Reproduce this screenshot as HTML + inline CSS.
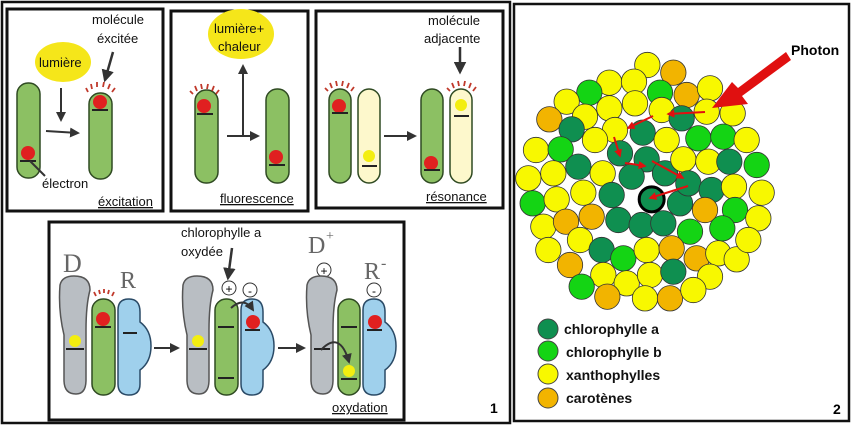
<!DOCTYPE html>
<html><head><meta charset="utf-8"><style>
html,body{margin:0;padding:0;background:#fff}
svg{display:block;font-family:"Liberation Sans",sans-serif}
.t{font-size:13px;fill:#111}
.rod{fill:#8cc063;stroke:#2f4a22;stroke-width:1.5}
.yrod{fill:#fdf8cc;stroke:#2f4a22;stroke-width:1.5}
.gray{fill:#b9bec3;stroke:#555;stroke-width:1.5}
.blue{fill:#9fd0ec;stroke:#2a4a66;stroke-width:1.5}
.lv{stroke:#222;stroke-width:2}
.ar{stroke:#333;stroke-width:2;fill:none}
.ray{stroke:#c0392b;stroke-width:1.8}
</style></head><body>
<svg id="s" width="852" height="426" viewBox="0 0 852 426">
<defs><marker id="ah" viewBox="0 0 10 10" refX="8" refY="5" markerWidth="5" markerHeight="5" orient="auto"><path d="M0,0L10,5L0,10z" fill="#333"/></marker>
<marker id="rh" viewBox="0 0 10 10" refX="8" refY="5" markerWidth="4" markerHeight="4" orient="auto"><path d="M0,0L10,5L0,10z" fill="#e01010"/></marker></defs>
<rect x="2" y="2" width="508" height="421" fill="none" stroke="#111" stroke-width="2.5"/>
<rect x="514" y="4" width="335" height="417" fill="none" stroke="#111" stroke-width="2.5"/>

<!-- Box A excitation -->
<g>
<rect x="7" y="9" width="156" height="202" fill="#fff" stroke="#111" stroke-width="3"/>
<ellipse cx="63" cy="62" rx="28" ry="20" fill="#f5e61a"/>
<text class="t" x="39" y="67">lumière</text>
<text class="t" x="92" y="24">molécule</text><text class="t" x="97" y="43">éxcitée</text>
<rect class="rod" x="17" y="83" width="23" height="95" rx="11"/>
<circle cx="28" cy="153" r="7" fill="#e02020"/><line class="lv" x1="20" y1="161" x2="36" y2="161"/>
<line class="ar" x1="30" y1="161" x2="45" y2="176"/>
<line class="ar" x1="61" y1="88" x2="61" y2="120" marker-end="url(#ah)"/>
<line class="ar" x1="46" y1="131" x2="78" y2="133" marker-end="url(#ah)"/>
<rect class="rod" x="89" y="93" width="23" height="86" rx="11"/>
<circle cx="100" cy="102" r="7" fill="#e02020"/><line class="lv" x1="92" y1="110" x2="108" y2="110"/>
<g class="ray"><line x1="86" y1="88" x2="88" y2="92"/><line x1="91" y1="84" x2="92" y2="89"/><line x1="97" y1="82" x2="97" y2="87"/><line x1="104" y1="82" x2="103" y2="87"/><line x1="110" y1="84" x2="108" y2="89"/><line x1="115" y1="88" x2="112" y2="92"/></g>
<line x1="113" y1="52" x2="105" y2="80" stroke="#333" stroke-width="2.5" marker-end="url(#ah)"/>
<text class="t" x="42" y="188">électron</text>
<text class="t" x="98" y="206" text-decoration="underline">éxcitation</text>
</g>

<!-- Box B fluorescence -->
<g>
<rect x="171" y="11" width="137" height="200" fill="#fff" stroke="#111" stroke-width="3"/>
<ellipse cx="241" cy="34" rx="33" ry="25" fill="#f5e61a"/>
<text class="t" x="214" y="33">lumière+</text><text class="t" x="218" y="51">chaleur</text>
<rect class="rod" x="195" y="90" width="23" height="93" rx="11"/>
<circle cx="204" cy="106" r="7" fill="#e02020"/><line class="lv" x1="197" y1="114" x2="213" y2="114"/>
<g class="ray"><line x1="190" y1="91" x2="193" y2="94"/><line x1="195" y1="86" x2="197" y2="91"/><line x1="201" y1="84" x2="202" y2="89"/><line x1="208" y1="84" x2="207" y2="89"/><line x1="214" y1="86" x2="212" y2="91"/><line x1="219" y1="90" x2="216" y2="94"/></g>
<line class="ar" x1="243" y1="136" x2="243" y2="66" marker-end="url(#ah)"/>
<line class="ar" x1="227" y1="136" x2="258" y2="136" marker-end="url(#ah)"/>
<rect class="rod" x="266" y="89" width="23" height="94" rx="11"/>
<circle cx="276" cy="157" r="7" fill="#e02020"/><line class="lv" x1="269" y1="165" x2="285" y2="165"/>
<text class="t" x="220" y="203" text-decoration="underline">fluorescence</text>
</g>

<!-- Box C resonance -->
<g>
<rect x="316" y="11" width="187" height="197" fill="#fff" stroke="#111" stroke-width="3"/>
<text class="t" x="428" y="25">molécule</text><text class="t" x="424" y="43">adjacente</text>
<line x1="460" y1="47" x2="460" y2="72" stroke="#333" stroke-width="2.5" marker-end="url(#ah)"/>
<rect class="rod" x="329" y="89" width="22" height="94" rx="11"/>
<circle cx="339" cy="106" r="7" fill="#e02020"/><line class="lv" x1="332" y1="113" x2="348" y2="113"/>
<g class="ray"><line x1="325" y1="88" x2="328" y2="91"/><line x1="330" y1="83" x2="332" y2="88"/><line x1="336" y1="81" x2="337" y2="86"/><line x1="343" y1="81" x2="342" y2="86"/><line x1="349" y1="83" x2="347" y2="88"/><line x1="354" y1="87" x2="351" y2="91"/></g>
<rect class="yrod" x="358" y="89" width="22" height="94" rx="11"/>
<circle cx="369" cy="156" r="6" fill="#f3ee10"/><line class="lv" x1="362" y1="166" x2="377" y2="166"/>
<line class="ar" x1="384" y1="136" x2="415" y2="136" marker-end="url(#ah)"/>
<rect class="rod" x="421" y="89" width="22" height="94" rx="11"/>
<circle cx="431" cy="163" r="7" fill="#e02020"/><line class="lv" x1="424" y1="170" x2="440" y2="170"/>
<rect class="yrod" x="450" y="89" width="22" height="94" rx="11"/>
<circle cx="461" cy="105" r="6" fill="#f3ee10"/><line class="lv" x1="454" y1="116" x2="469" y2="116"/>
<g class="ray"><line x1="447" y1="88" x2="450" y2="91"/><line x1="452" y1="83" x2="454" y2="88"/><line x1="458" y1="81" x2="459" y2="86"/><line x1="465" y1="81" x2="464" y2="86"/><line x1="471" y1="83" x2="469" y2="88"/><line x1="476" y1="87" x2="473" y2="91"/></g>
<text class="t" x="426" y="201" text-decoration="underline">résonance</text>
</g>

<!-- Bottom oxydation -->
<g>
<rect x="49" y="222" width="355" height="198" fill="#fff" stroke="#111" stroke-width="3"/>
<text x="63" y="272" font-family="Liberation Serif,serif" font-size="26" fill="#666">D</text>
<text x="120" y="288" font-family="Liberation Serif,serif" font-size="24" fill="#666">R</text>
<path class="gray" d="M60,285 Q62,276 74,276 Q90,276 90,290 Q86,305 86,330 L86,380 Q86,394 76,394 Q64,394 64,380 L64,335 Q58,310 60,285z"/>
<circle cx="75" cy="341" r="6" fill="#f3ee10"/><line class="lv" x1="66" y1="349" x2="84" y2="349"/>
<rect class="rod" x="92" y="299" width="23" height="96" rx="11"/>
<circle cx="103" cy="319" r="7" fill="#e02020"/><line class="lv" x1="95" y1="327" x2="111" y2="327"/>
<g class="ray"><line x1="94" y1="292" x2="96" y2="296"/><line x1="99" y1="290" x2="100" y2="294"/><line x1="104" y1="289" x2="104" y2="293"/><line x1="109" y1="290" x2="108" y2="294"/><line x1="114" y1="292" x2="112" y2="296"/></g>
<path class="blue" d="M118,310 Q118,299 129,299 Q140,299 140,312 L140,322 Q151,330 151,346 Q151,362 140,370 L140,384 Q140,395 129,395 Q118,395 118,384z"/>
<line class="lv" x1="123" y1="333" x2="137" y2="333" stroke="#1d3550"/>
<line class="ar" x1="154" y1="348" x2="178" y2="348" marker-end="url(#ah)"/>

<text class="t" x="181" y="237">chlorophylle a</text><text class="t" x="181" y="256">oxydée</text>
<line x1="232" y1="248" x2="228" y2="278" stroke="#333" stroke-width="2.5" marker-end="url(#ah)"/>
<path class="gray" d="M183,285 Q185,276 197,276 Q213,276 213,290 Q209,305 209,330 L209,380 Q209,394 199,394 Q187,394 187,380 L187,335 Q181,310 183,285z"/>
<circle cx="198" cy="341" r="6" fill="#f3ee10"/><line class="lv" x1="189" y1="349" x2="207" y2="349"/>
<rect class="rod" x="215" y="299" width="23" height="96" rx="11"/>
<line class="lv" x1="218" y1="327" x2="234" y2="327"/><line class="lv" x1="218" y1="378" x2="234" y2="378"/>
<path class="blue" d="M241,310 Q241,299 252,299 Q263,299 263,312 L263,322 Q274,330 274,346 Q274,362 263,370 L263,384 Q263,395 252,395 Q241,395 241,384z"/>
<circle cx="253" cy="322" r="7" fill="#e02020"/><line class="lv" x1="245" y1="330" x2="260" y2="330"/>
<circle cx="229" cy="288" r="7" fill="#fff" stroke="#333"/><text x="229" y="293" font-size="12" text-anchor="middle">+</text>
<circle cx="250" cy="290" r="7" fill="#fff" stroke="#333"/><text x="250" y="295" font-size="12" text-anchor="middle">-</text>
<path class="ar" d="M231,308 Q244,296 253,310" marker-end="url(#ah)"/>
<line class="ar" x1="278" y1="348" x2="304" y2="348" marker-end="url(#ah)"/>

<text x="308" y="253" font-family="Liberation Serif,serif" font-size="24" fill="#666">D</text><text x="326" y="240" font-family="Liberation Serif,serif" font-size="14" fill="#666">+</text>
<text x="364" y="279" font-family="Liberation Serif,serif" font-size="24" fill="#666">R</text><text x="381" y="268" font-family="Liberation Serif,serif" font-size="16" fill="#666">-</text>
<circle cx="324" cy="270" r="7" fill="#fff" stroke="#333"/><text x="324" y="275" font-size="12" text-anchor="middle">+</text>
<circle cx="374" cy="290" r="7" fill="#fff" stroke="#333"/><text x="374" y="295" font-size="12" text-anchor="middle">-</text>
<path class="gray" d="M307,285 Q309,276 321,276 Q337,276 337,290 Q333,305 333,330 L333,380 Q333,394 323,394 Q311,394 311,380 L311,335 Q305,310 307,285z"/>
<line class="lv" x1="314" y1="349" x2="330" y2="349"/>
<rect class="rod" x="338" y="299" width="22" height="96" rx="11"/>
<line class="lv" x1="341" y1="327" x2="357" y2="327"/>
<circle cx="349" cy="371" r="6" fill="#f3ee10"/><line class="lv" x1="341" y1="379" x2="357" y2="379"/>
<path class="ar" d="M321,350 Q340,330 349,362" marker-end="url(#ah)"/>
<path class="blue" d="M363,310 Q363,299 374,299 Q385,299 385,312 L385,322 Q396,330 396,346 Q396,362 385,370 L385,384 Q385,395 374,395 Q363,395 363,384z"/>
<circle cx="375" cy="322" r="7" fill="#e02020"/><line class="lv" x1="367" y1="330" x2="382" y2="330"/>
<text class="t" x="332" y="412" text-decoration="underline">oxydation</text>
</g>
<text x="490" y="413" font-size="14" font-weight="bold">1</text>

<g id="cluster"></g>
<g>
<polygon points="786,52 791,60 742,96 748,104 712,108 732,82 738,88" fill="#e01010"/>
<line x1="705" y1="112" x2="668" y2="114" stroke="#e01010" stroke-width="2" marker-end="url(#rh)"/>
<line x1="653" y1="116" x2="628" y2="128" stroke="#e01010" stroke-width="2" marker-end="url(#rh)"/>
<line x1="614" y1="137" x2="620" y2="156" stroke="#e01010" stroke-width="2" marker-end="url(#rh)"/>
<line x1="625" y1="163" x2="645" y2="166" stroke="#e01010" stroke-width="2" marker-end="url(#rh)"/>
<line x1="652" y1="161" x2="683" y2="178" stroke="#e01010" stroke-width="2" marker-end="url(#rh)"/>
<line x1="688" y1="186" x2="650" y2="198" stroke="#e01010" stroke-width="2" marker-end="url(#rh)"/>
</g>
<text x="791" y="55" font-size="14" font-weight="bold">Photon</text>
<g font-size="14" font-weight="bold" fill="#111">
<circle cx="548" cy="329" r="10" fill="#0f8f50" stroke="#444"/><text x="564" y="334">chlorophylle a</text>
<circle cx="548" cy="351" r="10" fill="#14d414" stroke="#444"/><text x="566" y="357">chlorophylle b</text>
<circle cx="548" cy="374" r="10" fill="#f8f800" stroke="#444"/><text x="566" y="380">xanthophylles</text>
<circle cx="548" cy="398" r="10" fill="#f2b400" stroke="#444"/><text x="566" y="403">carotènes</text>
</g>
<text x="833" y="414" font-size="14" font-weight="bold">2</text>
</svg>
<script>
// pigment types: a=chlorophylle a, b=chlorophylle b, x=xanthophylle, c=carotène
const pigX=[412,490,298,372,450,530,600,238,170,298,375,118,225,185,315,398,455,515,590,668,78,152,255,330,410,470,565,640,710,55,130,205,278,365,465,520,595,658,740,68,140,220,305,510,535,605,672,755,425,100,168,245,325,395,460,540,585,675,637,745,115,210,275,340,410,485,560,625,680,715,180,280,350,420,490,600,215,292,405,480,550];
const pigY=[195,218,248,245,278,285,265,278,305,325,310,358,350,388,390,398,330,355,335,340,450,448,420,460,478,420,415,410,420,535,520,500,520,530,520,478,485,485,495,610,598,578,585,610,550,570,560,578,598,680,665,650,660,675,670,695,630,630,685,655,750,720,750,775,750,745,775,760,778,720,795,825,850,825,815,830,860,890,895,895,870];
const pigT="xcxxbcxbxxxcxaxaxaxxxbxaaxbbxxxaxaaxxabbxxaaaaxxaxccaaabcbbxxxabxccxxxcxxxaxbcxcx";
const colors={a:"#0f8f50",b:"#14d414",x:"#f8f800",c:"#f2b400"};
const g=document.getElementById('cluster');
const NS="http://www.w3.org/2000/svg";
for(let i=0;i<pigX.length;i++){
  const c=document.createElementNS(NS,'circle');
  c.setAttribute('cx',510+pigX[i]/3);
  c.setAttribute('cy',pigY[i]/3);
  c.setAttribute('r',12.7);
  c.setAttribute('fill',colors[pigT[i]]);
  c.setAttribute('stroke','#333');
  c.setAttribute('stroke-width','0.8');
  
  
  g.appendChild(c);
}
const rc=document.createElementNS(NS,'circle');
rc.setAttribute('cx',510+425/3);rc.setAttribute('cy',598/3);rc.setAttribute('r',12.5);
rc.setAttribute('fill','#0f8f50');rc.setAttribute('stroke','#000');rc.setAttribute('stroke-width','3');


g.appendChild(rc);
</script>
</body></html>
